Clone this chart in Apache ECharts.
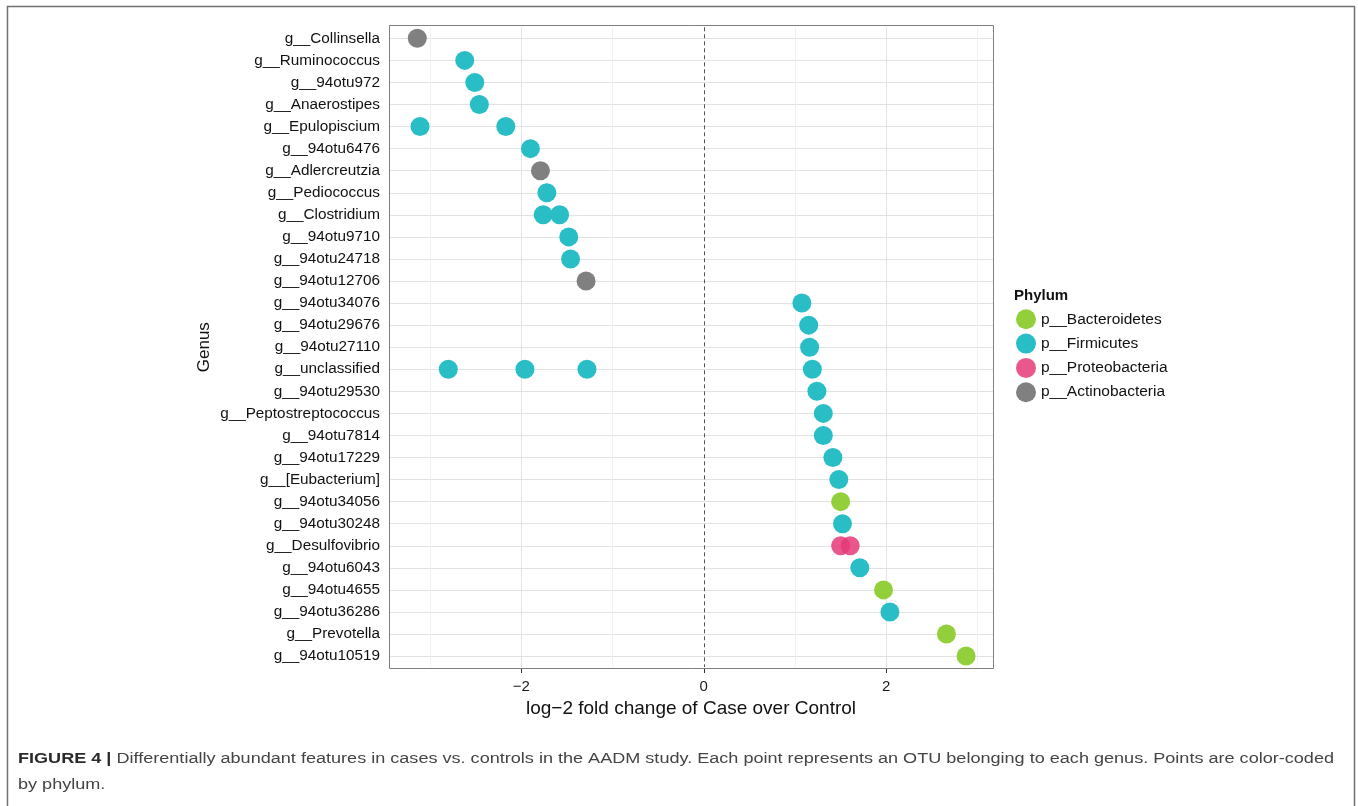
<!DOCTYPE html>
<html>
<head>
<meta charset="utf-8">
<script src="https://cdn.jsdelivr.net/npm/echarts@6/dist/echarts.min.js"></script>
<style>
html,body{margin:0;padding:0;background:#fff;}
#c{width:1358px;height:806px;}
</style>
</head>
<body>
<div id="c"></div>
<script>
// ---------- data ----------
const genera = [
  'g__Collinsella','g__Ruminococcus','g__94otu972','g__Anaerostipes','g__Epulopiscium',
  'g__94otu6476','g__Adlercreutzia','g__Pediococcus','g__Clostridium','g__94otu9710',
  'g__94otu24718','g__94otu12706','g__94otu34076','g__94otu29676','g__94otu27110',
  'g__unclassified','g__94otu29530','g__Peptostreptococcus','g__94otu7814','g__94otu17229',
  'g__[Eubacterium]','g__94otu34056','g__94otu30248','g__Desulfovibrio','g__94otu6043',
  'g__94otu4655','g__94otu36286','g__Prevotella','g__94otu10519'
];
const phyla = ['p__Bacteroidetes','p__Firmicutes','p__Proteobacteria','p__Actinobacteria'];

const bacteroidetes = [
  [1.50,'g__94otu34056'],[1.97,'g__94otu4655'],[2.66,'g__Prevotella'],[2.875,'g__94otu10519']
];
const firmicutes = [
  [-2.62,'g__Ruminococcus'],[-2.51,'g__94otu972'],[-2.46,'g__Anaerostipes'],
  [-3.11,'g__Epulopiscium'],[-2.17,'g__Epulopiscium'],[-1.90,'g__94otu6476'],
  [-1.72,'g__Pediococcus'],[-1.76,'g__Clostridium'],[-1.58,'g__Clostridium'],
  [-1.48,'g__94otu9710'],[-1.46,'g__94otu24718'],[1.075,'g__94otu34076'],
  [1.15,'g__94otu29676'],[1.16,'g__94otu27110'],[-2.80,'g__unclassified'],
  [-1.96,'g__unclassified'],[-1.28,'g__unclassified'],[1.19,'g__unclassified'],
  [1.24,'g__94otu29530'],[1.31,'g__Peptostreptococcus'],[1.31,'g__94otu7814'],
  [1.415,'g__94otu17229'],[1.48,'g__[Eubacterium]'],[1.52,'g__94otu30248'],
  [1.71,'g__94otu6043'],[2.04,'g__94otu36286']
];
const proteobacteria = [[1.50,'g__Desulfovibrio'],[1.605,'g__Desulfovibrio']];
const actinobacteria = [[-3.14,'g__Collinsella'],[-1.79,'g__Adlercreutzia'],[-1.29,'g__94otu12706']];

const xTicks = [-2, 0, 2];
const xMajorGrid = [-2, 2];
const xMinorGrid = [-3, -1, 1, 3];

const xTitle = 'log\u22122 fold change of Case over Control';
const yTitle = 'Genus';
const legendTitle = 'Phylum';
const captionBold = 'FIGURE 4 |';
const captionLine1 = ' Differentially abundant features in cases vs. controls in the AADM study. Each point represents an OTU belonging to each genus. Points are color-coded';
const captionLine2 = 'by phylum.';

// ---------- chart ----------
const FONT = 'Liberation Sans, Arial, Helvetica, sans-serif';
const colors = {
  'p__Bacteroidetes': '#93cf3a',
  'p__Firmicutes': '#29bdc5',
  'p__Proteobacteria': '#e53a78',
  'p__Actinobacteria': '#808080'
};

// panel frame (ggplot panel incl. discrete-axis expansion)
const PANEL = { x: 389, y: 25, w: 604, h: 643 };

const capSize = 14;
const mctx = document.createElement('canvas').getContext('2d');
mctx.font = 'bold ' + capSize + 'px ' + FONT;
const wb = mctx.measureText(captionBold).width;
mctx.font = capSize + 'px ' + FONT;
const wr = mctx.measureText(captionLine1).width;
const capScale = 1316 / (wb + wr);

const gridLines = []
  .concat(genera.map(g => ({ yAxis: g, lineStyle: { color: '#e2e2e2', width: 1, type: 'solid' } })))
  .concat(xMinorGrid.map(v => ({ xAxis: v, lineStyle: { color: '#f1f1f1', width: 1, type: 'solid' } })))
  .concat(xMajorGrid.map(v => ({ xAxis: v, lineStyle: { color: '#e4e4e4', width: 1, type: 'solid' } })))
  .concat([{ xAxis: 0, lineStyle: { color: '#555555', width: 1, type: [4, 3] } }]);

function pointSeries(name, data, opacity) {
  return {
    name: name,
    type: 'scatter',
    data: data,
    symbol: 'circle',
    symbolSize: 19,
    z: 5,
    itemStyle: { color: colors[name], opacity: opacity },
    emphasis: { disabled: true }
  };
}

const chart = echarts.init(document.getElementById('c'), null, { renderer: 'canvas' });
chart.setOption({
  animation: false,
  backgroundColor: '#ffffff',
  grid: {
    left: 389, top: 27.3, right: 365, bottom: 138.9,
    show: false
  },
  xAxis: {
    type: 'value',
    min: -3.45, max: 3.17,
    offset: 0.9,
    axisLine: { show: false },
    axisTick: { show: true, length: 5, customValues: xTicks, lineStyle: { color: '#333' } },
    axisLabel: {
      customValues: xTicks,
      formatter: v => String(v).replace('-', '\u2212'),
      fontFamily: FONT, fontSize: 15, color: '#1a1a1a', margin: 11
    },
    splitLine: { show: false },
    name: xTitle, nameLocation: 'middle', nameGap: 23,
    nameTextStyle: { fontFamily: FONT, fontSize: 19, color: '#111' }
  },
  yAxis: {
    type: 'category',
    data: genera,
    inverse: true,
    boundaryGap: true,
    axisLine: { show: false },
    axisTick: { show: true, alignWithLabel: true, length: 6, lineStyle: { color: '#333' } },
    axisLabel: { interval: 0, fontFamily: FONT, fontSize: 15.3, color: '#111', margin: 9 },
    splitLine: { show: false },
    name: yTitle, nameLocation: 'middle', nameRotate: 90, nameGap: 176,
    nameTextStyle: { fontFamily: FONT, fontSize: 17, color: '#111' }
  },
  legend: {
    data: phyla,
    orient: 'vertical',
    left: 1016, top: 309.3,
    padding: 0,
    itemWidth: 20, itemHeight: 20, itemGap: 4.3,
    icon: 'circle',
    selectedMode: false,
    textStyle: { fontFamily: FONT, fontSize: 15.5, color: '#111' }
  },
  series: [
    {
      name: 'gridlines',
      type: 'scatter',
      data: [],
      silent: true,
      z: 1,
      markLine: {
        silent: true,
        z: 1,
        symbol: ['none', 'none'],
        label: { show: false },
        emphasis: { disabled: true },
        data: gridLines
      }
    },
    pointSeries('p__Bacteroidetes', bacteroidetes, 1),
    pointSeries('p__Firmicutes', firmicutes, 1),
    pointSeries('p__Proteobacteria', proteobacteria, 0.85),
    pointSeries('p__Actinobacteria', actinobacteria, 1)
  ],
  graphic: [
    {
      type: 'rect', silent: true,
      shape: { x: 7.5, y: 6.5, width: 1347, height: 820 },
      style: { fill: 'none', stroke: '#707070', lineWidth: 1.5 }
    },
    {
      type: 'rect', silent: true, z: 10,
      shape: { x: PANEL.x + 0.5, y: PANEL.y + 0.5, width: PANEL.w, height: PANEL.h },
      style: { fill: 'none', stroke: '#7f7f7f', lineWidth: 1 }
    },
    {
      type: 'text', silent: true, x: 1014, y: 296,
      style: { text: legendTitle, fontFamily: FONT, fontSize: 15, fontWeight: 'bold', fill: '#111', verticalAlign: 'middle' }
    },
    {
      type: 'text', silent: true, x: 18, y: 759, scaleX: capScale,
      style: {
        text: '{b|' + captionBold + '}{r|' + captionLine1 + '}',
        verticalAlign: 'middle',
        rich: {
          b: { fontFamily: FONT, fontSize: capSize, fontWeight: 'bold', fill: '#2a2a2a' },
          r: { fontFamily: FONT, fontSize: capSize, fill: '#444' }
        }
      }
    },
    {
      type: 'text', silent: true, x: 18, y: 785, scaleX: capScale,
      style: { text: captionLine2, fontFamily: FONT, fontSize: capSize, fill: '#444', verticalAlign: 'middle' }
    }
  ]
});
</script>
</body>
</html>
